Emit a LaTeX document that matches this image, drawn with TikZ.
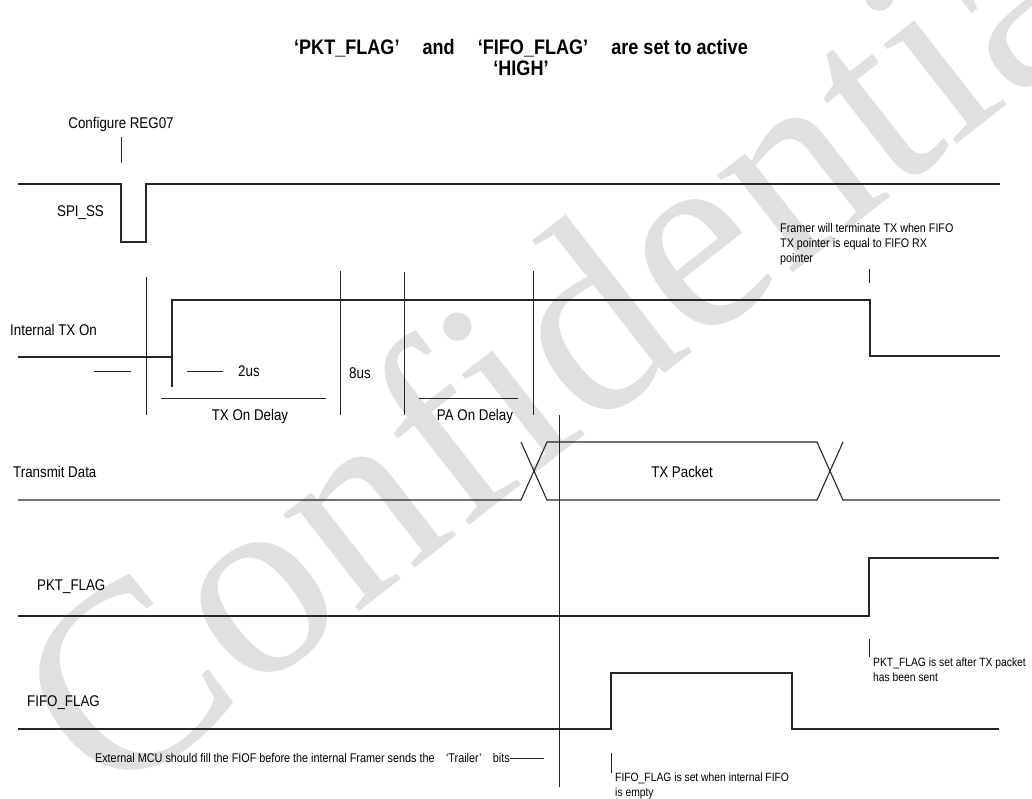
\documentclass[tikz,border=0pt]{standalone}
\usepackage{fontspec}
\setmainfont{Liberation Sans}[FakeStretch=0.86]
\newfontfamily\wmfont{Liberation Serif}
\tikzset{
  sig/.style={line width=1.1pt, black!85},
  tickln/.style={line width=1pt, black!85},
  lbl/.style={font=\fontsize{15.5}{18}\selectfont, inner sep=0pt},
  note/.style={font=\fontsize{12}{15}\selectfont, anchor=north west, align=left, inner sep=0pt},
  wm/.style={font=\wmfont\fontsize{268}{268}\selectfont, text=black!12, inner sep=0pt}
}
\begin{document}
\begin{tikzpicture}[x=1pt,y=-1pt]
\useasboundingbox (0,0) rectangle (1032,798);
% watermark
\node[wm, rotate=38, anchor=base west] (wmk) at (108,808) {Confidential};
% title
\node[font=\bfseries\fontsize{21}{21}\selectfont, align=center, inner sep=0pt] (title) at (521,57)
  {‘PKT\_FLAG’\hspace{1.1em}and\hspace{1.1em}‘FIFO\_FLAG’\hspace{1.1em}are set to active\\‘HIGH’};
% labels
\node[lbl] (cfg) at (121,124) {Configure REG07};
\node[lbl, anchor=west] (lspi) at (57,213) {SPI\_SS};
\node[lbl, anchor=west] (ltx) at (10,330) {Internal TX On};
\node[lbl, anchor=west] (ltd) at (13,472) {Transmit Data};
\node[lbl, anchor=west] (lpkt) at (37,587) {PKT\_FLAG};
\node[lbl, anchor=west] (lfifo) at (27,703) {FIFO\_FLAG};
% Configure tick
\draw[tickln] (121,137) -- (121,163);
% SPI_SS
\draw[sig] (18,184) -- (121,184) -- (121,242) -- (146,242) -- (146,184) -- (1000,184);
% Internal TX On
\draw[sig] (18,357) -- (172,357) -- (172,300) -- (870,300) -- (870,356) -- (1000,356);
\draw[sig] (172,357) -- (172,387);
\draw[tickln] (146,277) -- (146,415);
\draw[tickln] (340,271) -- (340,415);
\draw[tickln] (404,272) -- (404,415);
\draw[tickln] (533,271) -- (533,415);
\draw[tickln] (94,371) -- (131,371);
\draw[tickln] (187,371) -- (223,371);
\node[lbl, anchor=west] (t2us) at (238,371) {2us};
\node[lbl, anchor=west] (t8us) at (349,373) {8us};
\draw[tickln] (161,398) -- (326,398);
\node[lbl] (txd) at (250,416) {TX On Delay};
\draw[tickln] (419,398) -- (518,398);
\node[lbl] (pad) at (475,416) {PA On Delay};
\draw[tickln] (869,269) -- (869,283);
\node[note, font=\fontsize{12.5}{15}\selectfont] (nframer) at (780,223) {Framer will terminate TX when FIFO\\TX pointer is equal to FIFO RX\\pointer};
% Transmit Data
\draw[sig] (18,500) -- (521,500) -- (547,442) -- (817,442) -- (843,500) -- (1000,500);
\draw[sig] (521,442) -- (547,500) -- (817,500) -- (843,442);
\node[lbl] (pkt) at (682,472) {TX Packet};
% long vertical marker
\draw[tickln] (559,415) -- (559,787);
% PKT_FLAG
\draw[sig] (18,616) -- (869,616) -- (869,558) -- (999,558);
\draw[tickln] (869,639) -- (869,657);
\node[note] (npkt) at (873,658) {PKT\_FLAG is set after TX packet\\has been sent};
% FIFO_FLAG
\draw[sig] (18,729) -- (611,729) -- (611,673) -- (792,673) -- (792,729) -- (999,729);
\draw[tickln] (611,753) -- (611,773);
\node[note] (nfifo) at (615,773) {FIFO\_FLAG is set when internal FIFO\\is empty};
% External MCU note
\node[font=\fontsize{12.6}{14}\selectfont, anchor=east, inner sep=0pt] (next) at (510,758)
  {External MCU should fill the FIOF before the internal Framer sends the\hspace{0.9em}‘Trailer’\hspace{0.9em}bits};
\draw[tickln] (next.east) -- ++(34,0);
\end{tikzpicture}
\end{document}
